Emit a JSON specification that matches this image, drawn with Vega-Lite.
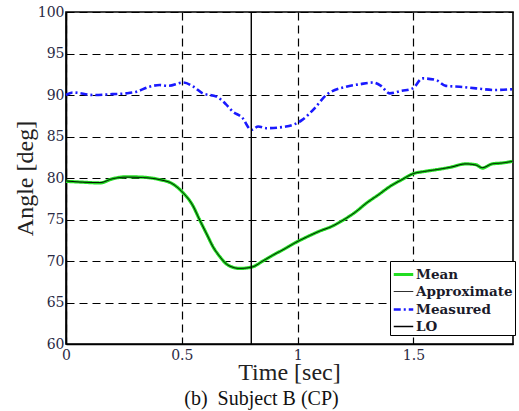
{
  "$schema": "https://vega.github.io/schema/vega-lite/v6.json",
  "width": 447,
  "height": 332,
  "autosize": "none",
  "padding": {"left": 66, "top": 12, "right": 6, "bottom": 67},
  "background": "white",
  "title": {
    "text": "(b)\u00a0 Subject B (CP)",
    "orient": "bottom",
    "anchor": "middle",
    "dx": -28,
    "offset": 5,
    "font": "Liberation Serif",
    "fontSize": 20,
    "fontWeight": "normal",
    "color": "#111"
  },
  "config": {
    "view": {"stroke": "black", "strokeWidth": 1.6},
    "axis": {
      "labelFont": "DejaVu Serif",
      "labelFontSize": 14,
      "labelColor": "#2a2a44",
      "titleFont": "Liberation Serif",
      "titleFontWeight": "normal",
      "titleColor": "#222",
      "domainColor": "black",
      "domainWidth": 1.6,
      "ticks": false,
      "gridColor": "black",
      "gridDash": [8, 5],
      "gridWidth": 1.2,
      "gridOpacity": 1
    },
    "legend": {
      "labelFont": "DejaVu Serif",
      "labelFontSize": 13.5,
      "labelFontWeight": "bold",
      "labelColor": "#1a1a2a"
    }
  },
  "data": {
    "values": [
      {"series": "Mean", "t": 0.0, "angle": 79.6},
      {"series": "Mean", "t": 0.07, "angle": 79.5},
      {"series": "Mean", "t": 0.147, "angle": 79.4},
      {"series": "Mean", "t": 0.2, "angle": 79.9},
      {"series": "Mean", "t": 0.26, "angle": 80.15},
      {"series": "Mean", "t": 0.33, "angle": 80.1},
      {"series": "Mean", "t": 0.405, "angle": 79.8},
      {"series": "Mean", "t": 0.46, "angle": 79.3},
      {"series": "Mean", "t": 0.506, "angle": 78.2},
      {"series": "Mean", "t": 0.545, "angle": 76.8},
      {"series": "Mean", "t": 0.578, "angle": 74.9},
      {"series": "Mean", "t": 0.61, "angle": 73.1},
      {"series": "Mean", "t": 0.635, "angle": 71.7},
      {"series": "Mean", "t": 0.665, "angle": 70.5},
      {"series": "Mean", "t": 0.69, "angle": 69.7},
      {"series": "Mean", "t": 0.72, "angle": 69.25},
      {"series": "Mean", "t": 0.75, "angle": 69.1},
      {"series": "Mean", "t": 0.806, "angle": 69.3},
      {"series": "Mean", "t": 0.85, "angle": 70.0},
      {"series": "Mean", "t": 0.893, "angle": 70.7},
      {"series": "Mean", "t": 0.94, "angle": 71.4},
      {"series": "Mean", "t": 0.99, "angle": 72.2},
      {"series": "Mean", "t": 1.04, "angle": 72.9},
      {"series": "Mean", "t": 1.095, "angle": 73.6},
      {"series": "Mean", "t": 1.15, "angle": 74.2},
      {"series": "Mean", "t": 1.195, "angle": 74.9},
      {"series": "Mean", "t": 1.25, "angle": 75.9},
      {"series": "Mean", "t": 1.296, "angle": 76.95},
      {"series": "Mean", "t": 1.35, "angle": 78.0},
      {"series": "Mean", "t": 1.397, "angle": 78.95},
      {"series": "Mean", "t": 1.45, "angle": 79.8},
      {"series": "Mean", "t": 1.497, "angle": 80.5},
      {"series": "Mean", "t": 1.55, "angle": 80.8},
      {"series": "Mean", "t": 1.598, "angle": 81.0},
      {"series": "Mean", "t": 1.66, "angle": 81.3},
      {"series": "Mean", "t": 1.727, "angle": 81.7},
      {"series": "Mean", "t": 1.77, "angle": 81.6},
      {"series": "Mean", "t": 1.798, "angle": 81.2},
      {"series": "Mean", "t": 1.84, "angle": 81.7},
      {"series": "Mean", "t": 1.88, "angle": 81.8},
      {"series": "Mean", "t": 1.927, "angle": 82.0},

      {"series": "Approximate", "t": 0.0, "angle": 79.65},
      {"series": "Approximate", "t": 0.07, "angle": 79.5},
      {"series": "Approximate", "t": 0.147, "angle": 79.45},
      {"series": "Approximate", "t": 0.2, "angle": 79.9},
      {"series": "Approximate", "t": 0.26, "angle": 80.1},
      {"series": "Approximate", "t": 0.33, "angle": 80.05},
      {"series": "Approximate", "t": 0.405, "angle": 79.8},
      {"series": "Approximate", "t": 0.46, "angle": 79.3},
      {"series": "Approximate", "t": 0.506, "angle": 78.2},
      {"series": "Approximate", "t": 0.545, "angle": 76.8},
      {"series": "Approximate", "t": 0.578, "angle": 74.9},
      {"series": "Approximate", "t": 0.61, "angle": 73.1},
      {"series": "Approximate", "t": 0.635, "angle": 71.7},
      {"series": "Approximate", "t": 0.665, "angle": 70.5},
      {"series": "Approximate", "t": 0.69, "angle": 69.7},
      {"series": "Approximate", "t": 0.72, "angle": 69.25},
      {"series": "Approximate", "t": 0.75, "angle": 69.1},
      {"series": "Approximate", "t": 0.806, "angle": 69.3},
      {"series": "Approximate", "t": 0.85, "angle": 70.0},
      {"series": "Approximate", "t": 0.893, "angle": 70.7},
      {"series": "Approximate", "t": 0.94, "angle": 71.4},
      {"series": "Approximate", "t": 0.99, "angle": 72.2},
      {"series": "Approximate", "t": 1.04, "angle": 72.9},
      {"series": "Approximate", "t": 1.095, "angle": 73.6},
      {"series": "Approximate", "t": 1.15, "angle": 74.2},
      {"series": "Approximate", "t": 1.195, "angle": 74.9},
      {"series": "Approximate", "t": 1.25, "angle": 75.9},
      {"series": "Approximate", "t": 1.296, "angle": 76.95},
      {"series": "Approximate", "t": 1.35, "angle": 78.0},
      {"series": "Approximate", "t": 1.397, "angle": 78.95},
      {"series": "Approximate", "t": 1.45, "angle": 79.8},
      {"series": "Approximate", "t": 1.497, "angle": 80.5},
      {"series": "Approximate", "t": 1.55, "angle": 80.8},
      {"series": "Approximate", "t": 1.598, "angle": 81.0},
      {"series": "Approximate", "t": 1.66, "angle": 81.3},
      {"series": "Approximate", "t": 1.727, "angle": 81.7},
      {"series": "Approximate", "t": 1.77, "angle": 81.55},
      {"series": "Approximate", "t": 1.798, "angle": 81.25},
      {"series": "Approximate", "t": 1.84, "angle": 81.7},
      {"series": "Approximate", "t": 1.88, "angle": 81.8},
      {"series": "Approximate", "t": 1.927, "angle": 82.0},

      {"series": "Measured", "t": 0.0, "angle": 90.0},
      {"series": "Measured", "t": 0.03, "angle": 90.3},
      {"series": "Measured", "t": 0.118, "angle": 90.0},
      {"series": "Measured", "t": 0.2, "angle": 90.1},
      {"series": "Measured", "t": 0.26, "angle": 90.2},
      {"series": "Measured", "t": 0.305, "angle": 90.4},
      {"series": "Measured", "t": 0.36, "angle": 91.0},
      {"series": "Measured", "t": 0.405, "angle": 91.2},
      {"series": "Measured", "t": 0.44, "angle": 91.1},
      {"series": "Measured", "t": 0.506, "angle": 91.5},
      {"series": "Measured", "t": 0.55, "angle": 91.0},
      {"series": "Measured", "t": 0.59, "angle": 90.2},
      {"series": "Measured", "t": 0.65, "angle": 89.8},
      {"series": "Measured", "t": 0.69, "angle": 88.9},
      {"series": "Measured", "t": 0.72, "angle": 88.0},
      {"series": "Measured", "t": 0.76, "angle": 87.3},
      {"series": "Measured", "t": 0.80, "angle": 85.8},
      {"series": "Measured", "t": 0.83, "angle": 86.2},
      {"series": "Measured", "t": 0.865, "angle": 86.0},
      {"series": "Measured", "t": 0.95, "angle": 86.2},
      {"series": "Measured", "t": 1.02, "angle": 87.0},
      {"series": "Measured", "t": 1.07, "angle": 88.3},
      {"series": "Measured", "t": 1.124, "angle": 90.0},
      {"series": "Measured", "t": 1.21, "angle": 91.0},
      {"series": "Measured", "t": 1.27, "angle": 91.3},
      {"series": "Measured", "t": 1.325, "angle": 91.5},
      {"series": "Measured", "t": 1.36, "angle": 91.1},
      {"series": "Measured", "t": 1.397, "angle": 90.2},
      {"series": "Measured", "t": 1.45, "angle": 90.5},
      {"series": "Measured", "t": 1.497, "angle": 90.8},
      {"series": "Measured", "t": 1.54, "angle": 92.0},
      {"series": "Measured", "t": 1.598, "angle": 91.8},
      {"series": "Measured", "t": 1.64, "angle": 91.1},
      {"series": "Measured", "t": 1.7, "angle": 91.0},
      {"series": "Measured", "t": 1.77, "angle": 90.8},
      {"series": "Measured", "t": 1.85, "angle": 90.6},
      {"series": "Measured", "t": 1.927, "angle": 90.7},

      {"series": "LO", "t": 0.8, "angle": 60},
      {"series": "LO", "t": 0.8, "angle": 100}
    ]
  },
  "encoding": {
    "x": {
      "field": "t",
      "type": "quantitative",
      "scale": {"domain": [0, 1.93], "nice": false, "zero": false},
      "axis": {
        "values": [0, 0.5, 1, 1.5],
        "format": "~g",
        "title": "Time [sec]",
        "titleFontSize": 24,
        "titleX": 223,
        "titleY": 28,
        "titleBaseline": "middle",
        "labelPadding": 4,
        "labelFlush": false
      }
    },
    "y": {
      "field": "angle",
      "type": "quantitative",
      "scale": {"domain": [60, 100], "nice": false, "zero": false},
      "axis": {
        "values": [60, 65, 70, 75, 80, 85, 90, 95, 100],
        "title": "Angle [deg]",
        "titleFontSize": 24,
        "titleX": -41,
        "titleY": 166,
        "titleBaseline": "middle",
        "titleAlign": "center",
        "labelPadding": 2
      }
    },
    "color": {
      "field": "series",
      "type": "nominal",
      "title": null,
      "scale": {
        "domain": ["Mean", "Approximate", "Measured", "LO"],
        "range": ["#22dd22", "black", "#1a1aff", "black"]
      },
      "legend": {
        "orient": "none",
        "legendX": 324,
        "legendY": 249,
        "fillColor": "white",
        "strokeColor": "black",
        "padding": 2,
        "symbolType": "stroke",
        "symbolSize": 380,
        "labelOffset": 1,
        "rowPadding": 0
      }
    },
    "strokeDash": {
      "field": "series",
      "type": "nominal",
      "title": null,
      "scale": {
        "domain": ["Mean", "Approximate", "Measured", "LO"],
        "range": [[1, 0], [1, 0], [7, 3, 2, 3], [1, 0]]
      }
    },
    "strokeWidth": {
      "field": "series",
      "type": "nominal",
      "title": null,
      "scale": {
        "type": "ordinal",
        "domain": ["Mean", "Approximate", "Measured", "LO"],
        "range": [3.2, 1, 2.6, 1.4]
      }
    }
  },
  "layer": [
    {"transform": [{"filter": "datum.series === 'Mean'"}], "mark": {"type": "line", "interpolate": "monotone"}},
    {"transform": [{"filter": "datum.series === 'Approximate'"}], "mark": {"type": "line", "interpolate": "monotone"}},
    {"transform": [{"filter": "datum.series === 'Measured'"}], "mark": {"type": "line", "interpolate": "monotone"}},
    {"transform": [{"filter": "datum.series === 'LO'"}], "mark": {"type": "line"}}
  ]
}
